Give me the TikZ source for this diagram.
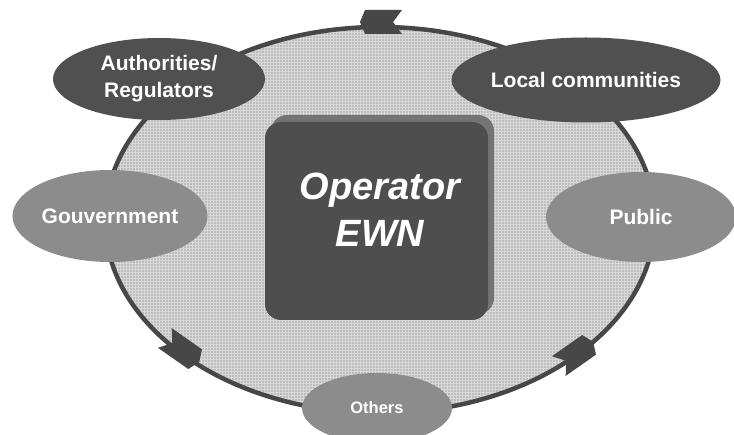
\documentclass[tikz,border=0pt]{standalone}
\usepackage{fontspec}
\setmainfont{Liberation Sans}
\usetikzlibrary{shapes.geometric,patterns}
\definecolor{ringline}{HTML}{474747}
\definecolor{ringfill}{HTML}{BDBDBD}
\definecolor{dotc}{HTML}{D8D8D8}
\definecolor{darkgr}{HTML}{505050}
\definecolor{midgr}{HTML}{8C8C8C}
\definecolor{boxdark}{HTML}{4E4E4E}
\definecolor{boxlight}{HTML}{747474}
\tikzset{
  stake/.style={ellipse, inner sep=0pt, text=white, align=center,
    font=\bfseries\fontsize{21}{27}\selectfont},
  darkst/.style={stake, fill=darkgr},
  midst/.style={stake, fill=midgr},
  chev/.style={fill=ringline},
}
\newcommand{\chevat}[2]{\fill[chev, shift={(#1)}, rotate=#2] (21pt,0pt)--(16pt,12pt)--(-21pt,12pt)--(-12pt,0pt)--(-21pt,-12pt)--(16pt,-12pt)--cycle;}
\begin{document}
\begin{tikzpicture}[x=1pt,y=1pt]
\useasboundingbox (0,0) rectangle (734,434);
\fill[white] (0,0) rectangle (734,434);
% ring
\node[ellipse, preaction={fill=ringfill},
  preaction={pattern=grid, pattern color=dotc},
  draw=ringline, line width=4.5pt,
  minimum width=550pt, minimum height=386pt, inner sep=0pt] (ring) at (380,214) {};
% arrows on ring
\coordinate (a1) at (381,412);
\coordinate (a2) at (182,84);
\coordinate (a3) at (576,80);
\chevat{a1}{180}
\chevat{a2}{-35}
\chevat{a3}{35}
% stakeholders
\node[darkst, minimum width=212pt, minimum height=82pt] (auth) at (159,355) {Authorities/\\Regulators};
\node[darkst, minimum width=208pt, minimum height=85pt] (local) at (586,354) {Local communities};
\node[midst, minimum width=195pt, minimum height=92pt] (gov) at (110,218) {Gouvernment};
\node[midst, minimum width=190pt, minimum height=90pt] (pub) at (641,217) {Public};
\node[midst, minimum width=150pt, minimum height=70pt,
  font=\bfseries\fontsize{16.5}{20}\selectfont] (oth) at (377,26) {Others};
% operator box
\node[fill=boxlight, rounded corners=16pt, minimum width=223pt, minimum height=199pt, inner sep=0pt] (opback) at (382.5,219.5) {};
\node[fill=boxdark, rounded corners=16pt, minimum width=223pt, minimum height=198pt, inner sep=0pt] (op) at (376.5,213) {};
\node[text=white, align=center, inner sep=0pt,
  font=\bfseries\itshape\fontsize{38}{47}\selectfont] (optext) at (380,224) {Operator\\EWN};
\end{tikzpicture}
\end{document}
